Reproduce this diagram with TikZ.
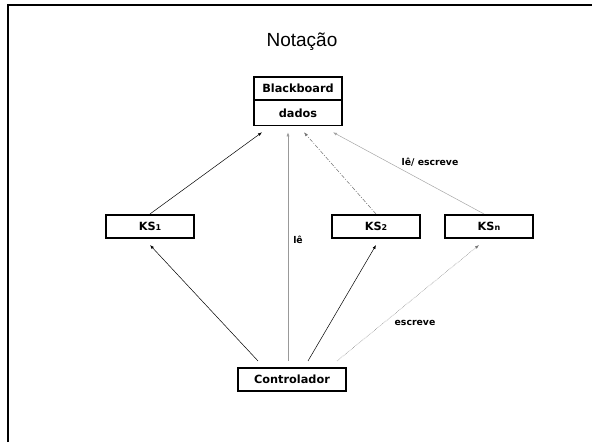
\documentclass[tikz,border=0pt]{standalone}
\usepackage{fontspec}
\usepackage{xcolor}
\usepackage{tikz}
\usetikzlibrary{arrows.meta}
\setsansfont{DejaVu Sans}
\newfontfamily\titlefont{Liberation Sans}
\renewcommand{\familydefault}{\sfdefault}

\tikzset{
  ksbox/.style={draw,line width=1.6pt,minimum width=88pt,minimum height=23.5pt,inner sep=0pt,font=\bfseries\fontsize{11.3}{13}\selectfont},
  arr/.style={-{Latex[length=4pt,width=3pt]},line width=0.5pt},
  lbl/.style={font=\bfseries\fontsize{9.3}{11}\selectfont}
}
\newcommand{\ksidx}[1]{\raisebox{-0.3pt}{\fontsize{8}{8}\selectfont #1}}

\begin{document}
\begin{tikzpicture}[x=1pt,y=-1pt]
\useasboundingbox (0,0) rectangle (592,442);
\draw[line width=2pt] (7.5,442) -- (7.5,5) -- (592,5);
  \node[font=\titlefont\fontsize{19}{21}\selectfont] (title) at (302,42) {Notação};
  % blackboard
  \node[ksbox] (bb) at (298,88.5) {Blackboard};
  \node[ksbox,minimum height=25pt] (dados) at (298,113) {dados};
  % fontes de conhecimento
  \node[ksbox] (ks1) at (150,226.5) {KS\ksidx{1}};
  \node[ksbox] (ks2) at (376,226.5) {KS\ksidx{2}};
  \node[ksbox] (ksn) at (489,226.5) {KS\ksidx{n}};
  \node[ksbox,minimum width=108pt] (ctrl) at (292,379.5) {Controlador};
  % ks -> blackboard
  \draw[arr] (ks1.north) -- ([xshift=-36pt,yshift=-6pt]dados.south);
  \draw[arr,gray!90!black,dash pattern=on 4pt off 1.5pt on 1pt off 1.5pt] (ks2.north) -- ([xshift=6pt,yshift=-6pt]dados.south);
  \draw[arr,gray!70] ([xshift=-5pt]ksn.north) -- ([xshift=35pt,yshift=-6pt]dados.south);
  % controlador
  \draw[arr] ([xshift=-34pt,yshift=6pt]ctrl.north) -- ([yshift=-6pt]ks1.south);
  \draw[arr,gray!80] ([xshift=-4pt,yshift=6pt]ctrl.north) -- ([xshift=-10pt,yshift=-6pt]dados.south);
  \draw[arr] ([xshift=16pt,yshift=6pt]ctrl.north) -- ([yshift=-6pt]ks2.south);
  \draw[arr,gray!90!black,densely dotted] ([xshift=45pt,yshift=6pt]ctrl.north) -- ([xshift=-10pt,yshift=-6pt]ksn.south);
  % rotulos
  \node[lbl] (le) at (298,240) {lê};
  \node[lbl] (lees) at (430,162) {lê/ escreve};
  \node[lbl] (esc) at (415,323) {escreve};
\end{tikzpicture}
\end{document}
